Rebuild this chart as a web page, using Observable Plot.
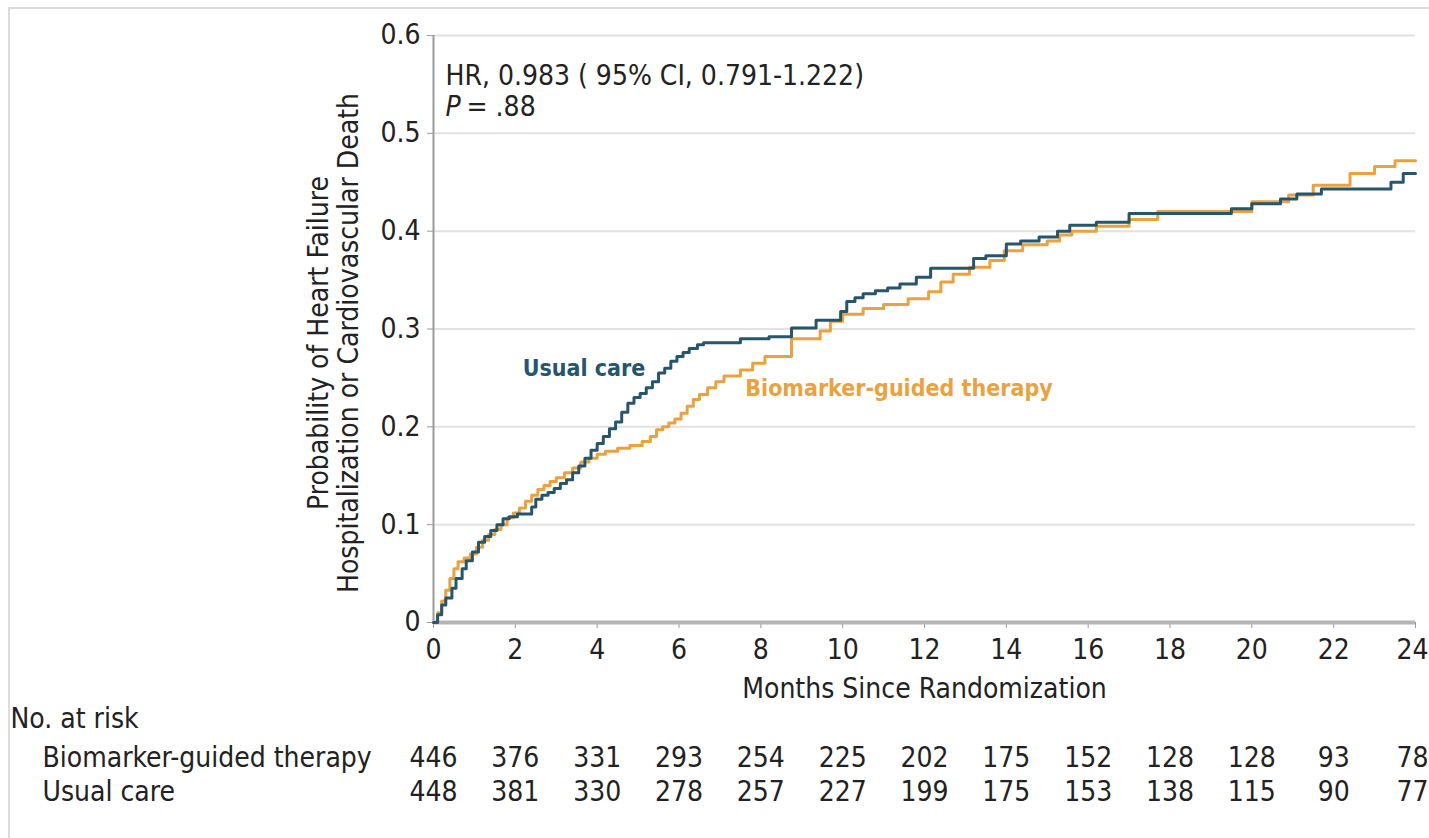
<!DOCTYPE html>
<html>
<head>
<meta charset="utf-8">
<script src="https://cdn.jsdelivr.net/npm/d3@7"></script>
<script src="https://cdn.jsdelivr.net/npm/@observablehq/plot@0.6"></script>
<style>
  html, body { margin: 0; padding: 0; background: #fff; }
  #wrap { position: relative; width: 1429px; height: 838px; overflow: hidden; }
  #frame { position: absolute; left: 8px; top: 7px; width: 1440px; height: 900px;
           border-left: 2px solid #dcdcdc; border-top: 2px solid #dcdcdc; }
  #chart { position: absolute; left: 0; top: 0; }
</style>
</head>
<body>
<div id="wrap"><div id="frame"></div><div id="chart"></div></div>
<script>
// Kaplan-Meier cumulative incidence, step times (months) and probabilities
const usualTimes = [0, 0.1, 0.2, 0.3, 0.45, 0.55, 0.7, 0.8, 0.95, 1.1, 1.25, 1.4, 1.55, 1.7, 1.85, 2.05,
  2.4, 2.5, 2.65, 2.8, 2.95, 3.1, 3.25, 3.4, 3.55, 3.7, 3.85, 4.0, 4.15, 4.3, 4.45, 4.6, 4.75, 4.9,
  5.05, 5.2, 5.35, 5.5, 5.65, 5.8, 5.95, 6.1, 6.25, 6.45, 6.6, 7.5, 8.2, 8.75, 9.35, 9.95, 10.1,
  10.3, 10.5, 10.8, 11.1, 11.4, 11.8, 12.15, 13.2, 13.5, 14.0, 14.35, 14.8, 15.25, 15.55, 16.2,
  17.0, 19.5, 20.0, 20.7, 21.1, 21.7, 23.4, 23.7, 24];
const usualProb = [0, 0.008, 0.018, 0.025, 0.035, 0.045, 0.055, 0.063, 0.072, 0.082, 0.088, 0.094, 0.1, 0.106, 0.108, 0.111,
  0.118, 0.126, 0.13, 0.133, 0.137, 0.142, 0.146, 0.153, 0.16, 0.168, 0.176, 0.183, 0.19, 0.198, 0.205, 0.215, 0.224, 0.23,
  0.234, 0.24, 0.246, 0.255, 0.26, 0.267, 0.272, 0.276, 0.28, 0.284, 0.286, 0.29, 0.292, 0.301, 0.309, 0.318, 0.328,
  0.332, 0.336, 0.339, 0.342, 0.346, 0.353, 0.362, 0.372, 0.375, 0.387, 0.39, 0.394, 0.4, 0.406, 0.409,
  0.418, 0.423, 0.428, 0.433, 0.438, 0.443, 0.45, 0.459, 0.459];

const biomarkerTimes = [0, 0.1, 0.2, 0.3, 0.4, 0.5, 0.6, 0.75, 0.9, 1.05, 1.2, 1.35, 1.5, 1.65, 1.8, 1.95, 2.1,
  2.25, 2.4, 2.55, 2.7, 2.85, 3.0, 3.2, 3.4, 3.6, 3.8, 4.0, 4.2, 4.5, 4.8, 5.1, 5.3, 5.45, 5.6, 5.75, 5.9,
  6.05, 6.2, 6.35, 6.5, 6.7, 6.9, 7.1, 7.5, 7.8, 8.1, 8.75, 9.45, 9.7, 10.0, 10.5, 11.0, 11.6, 12.1,
  12.4, 12.7, 13.1, 13.6, 13.95, 14.4, 15.0, 15.3, 15.6, 16.2, 17.0, 17.7, 20.0, 20.9, 21.5, 22.4,
  23.0, 23.5, 24];
const biomarkerProb = [0, 0.01, 0.022, 0.033, 0.045, 0.055, 0.062, 0.066, 0.07, 0.077, 0.084, 0.09, 0.095, 0.1, 0.107, 0.112, 0.117,
  0.124, 0.13, 0.136, 0.14, 0.144, 0.148, 0.153, 0.158, 0.164, 0.168, 0.172, 0.175, 0.178, 0.181, 0.185, 0.19, 0.197, 0.2, 0.204, 0.208,
  0.214, 0.221, 0.228, 0.233, 0.24, 0.246, 0.252, 0.258, 0.265, 0.272, 0.29, 0.298, 0.308, 0.315, 0.321, 0.325, 0.331, 0.338,
  0.348, 0.356, 0.363, 0.37, 0.38, 0.386, 0.39, 0.396, 0.4, 0.405, 0.412, 0.42, 0.43, 0.437, 0.447, 0.459,
  0.466, 0.472, 0.472];

// Axis ticks
const xTicks = [0, 2, 4, 6, 8, 10, 12, 14, 16, 18, 20, 22, 24];
const yTicks = [0, 0.1, 0.2, 0.3, 0.4, 0.5, 0.6];

// Number at risk
const riskMonths = [0, 2, 4, 6, 8, 10, 12, 14, 16, 18, 20, 22, 24];
const riskBiomarker = [446, 376, 331, 293, 254, 225, 202, 175, 152, 128, 128, 93, 78];
const riskUsual = [448, 381, 330, 278, 257, 227, 199, 175, 153, 138, 115, 90, 77];

const BLUE = "#27556c";
const ORANGE = "#e9a23f";
const FONT = "'DejaVu Sans Condensed', 'Liberation Sans Narrow', Roboto, sans-serif";
const FS = 28;

const usual = usualTimes.map((t, i) => ({t, p: usualProb[i]}));
const biomarker = biomarkerTimes.map((t, i) => ({t, p: biomarkerProb[i]}));
const riskRows = riskMonths.map((m, i) => ({m, b: riskBiomarker[i], u: riskUsual[i]}));
const xMax = xTicks[xTicks.length - 1];
// the last column sits on the right edge, so it is end-anchored to stay inside the page
const isLast = d => d.m === xMax;

const W = 1429, H = 838;
const mL = 433, mR = 14, mT = 35, mB = H - 622;
const edgeDx = mR - 1;

const chart = Plot.plot({
  width: W,
  height: H,
  marginLeft: mL,
  marginRight: mR,
  marginTop: mT,
  marginBottom: mB,
  style: {fontFamily: FONT, background: "transparent", overflow: "visible"},
  x: {domain: [0, 24]},
  y: {domain: [0, 0.6]},
  marks: [
    Plot.ruleY(yTicks.filter(d => d > 0), {stroke: "#e2e2e2", strokeWidth: 2}),
    Plot.axisX({ticks: xTicks, tickSize: 6, tickPadding: 11, stroke: "#999", fontSize: FS,
      color: "#222", label: null, tickFormat: d => d === xMax ? "" : String(d)}),
    Plot.text([xMax], {x: d => d, frameAnchor: "bottom", dy: 17, lineAnchor: "top", dx: edgeDx,
      textAnchor: "end", text: d => String(d), fontSize: FS, fill: "#222"}),
    Plot.axisY({ticks: yTicks, tickSize: 6, tickPadding: 7, stroke: "#999", fontSize: FS,
      color: "#222", label: null, tickFormat: d => d === 0 ? "0" : d.toFixed(1)}),
    Plot.ruleX([0], {stroke: "#9a9a9a", strokeWidth: 2}),
    Plot.ruleY([0], {stroke: "#b5b5b5", strokeWidth: 4}),
    Plot.line(biomarker, {x: "t", y: "p", curve: "step-after", stroke: ORANGE, strokeWidth: 3}),
    Plot.line(usual, {x: "t", y: "p", curve: "step-after", stroke: BLUE, strokeWidth: 3}),
    Plot.text(["Usual care"], {x: 2.18, y: 0.26, text: d => d, textAnchor: "start",
      fill: BLUE, fontSize: 23, fontWeight: "bold"}),
    Plot.text(["Biomarker-guided therapy"], {x: 7.62, y: 0.239, text: d => d, textAnchor: "start",
      fill: ORANGE, fontSize: 23, fontWeight: "bold"}),
    // hazard ratio annotation
    Plot.text(["HR, 0.983 ( 95% CI, 0.791-1.222)"], {frameAnchor: "top-left", dx: 12, dy: 30,
      text: d => d, textAnchor: "start", fontSize: FS, fill: "#222"}),
    Plot.text(["P"], {frameAnchor: "top-left", dx: 12, dy: 61, text: d => d, textAnchor: "start",
      fontSize: FS, fontStyle: "italic", fill: "#222"}),
    Plot.text(["= .88"], {frameAnchor: "top-left", dx: 33, dy: 61, text: d => d, textAnchor: "start",
      fontSize: FS, fill: "#222"}),
    // axis titles
    Plot.text(["Months Since Randomization"], {frameAnchor: "bottom-left", dx: 491, dy: 75,
      text: d => d, textAnchor: "middle", fontSize: FS, fill: "#222"}),
    Plot.text(["Probability of Heart Failure\nHospitalization or Cardiovascular Death"], {
      frameAnchor: "left", dx: -100, dy: 14, rotate: -90, text: d => d, textAnchor: "middle",
      lineHeight: 1.08, fontSize: FS, fill: "#222"}),
    // number-at-risk table
    Plot.text(["No. at risk"], {frameAnchor: "bottom-left", dx: 10 - mL, dy: 105, text: d => d,
      textAnchor: "start", fontSize: FS, fill: "#222"}),
    Plot.text(["Biomarker-guided therapy"], {frameAnchor: "bottom-left", dx: 42 - mL, dy: 144, text: d => d,
      textAnchor: "start", fontSize: FS, fill: "#222"}),
    Plot.text(["Usual care"], {frameAnchor: "bottom-left", dx: 42 - mL, dy: 178, text: d => d,
      textAnchor: "start", fontSize: FS, fill: "#222"}),
    Plot.text(riskRows, Plot.filter(d => !isLast(d), {x: "m", frameAnchor: "bottom", dy: 144,
      text: d => String(d.b), fontSize: FS, fill: "#222"})),
    Plot.text(riskRows, Plot.filter(d => !isLast(d), {x: "m", frameAnchor: "bottom", dy: 178,
      text: d => String(d.u), fontSize: FS, fill: "#222"})),
    Plot.text(riskRows, Plot.filter(isLast, {x: "m", frameAnchor: "bottom", dy: 144, dx: edgeDx,
      textAnchor: "end", text: d => String(d.b), fontSize: FS, fill: "#222"})),
    Plot.text(riskRows, Plot.filter(isLast, {x: "m", frameAnchor: "bottom", dy: 178, dx: edgeDx,
      textAnchor: "end", text: d => String(d.u), fontSize: FS, fill: "#222"}))
  ]
});
document.getElementById("chart").appendChild(chart);
</script>
</body>
</html>
